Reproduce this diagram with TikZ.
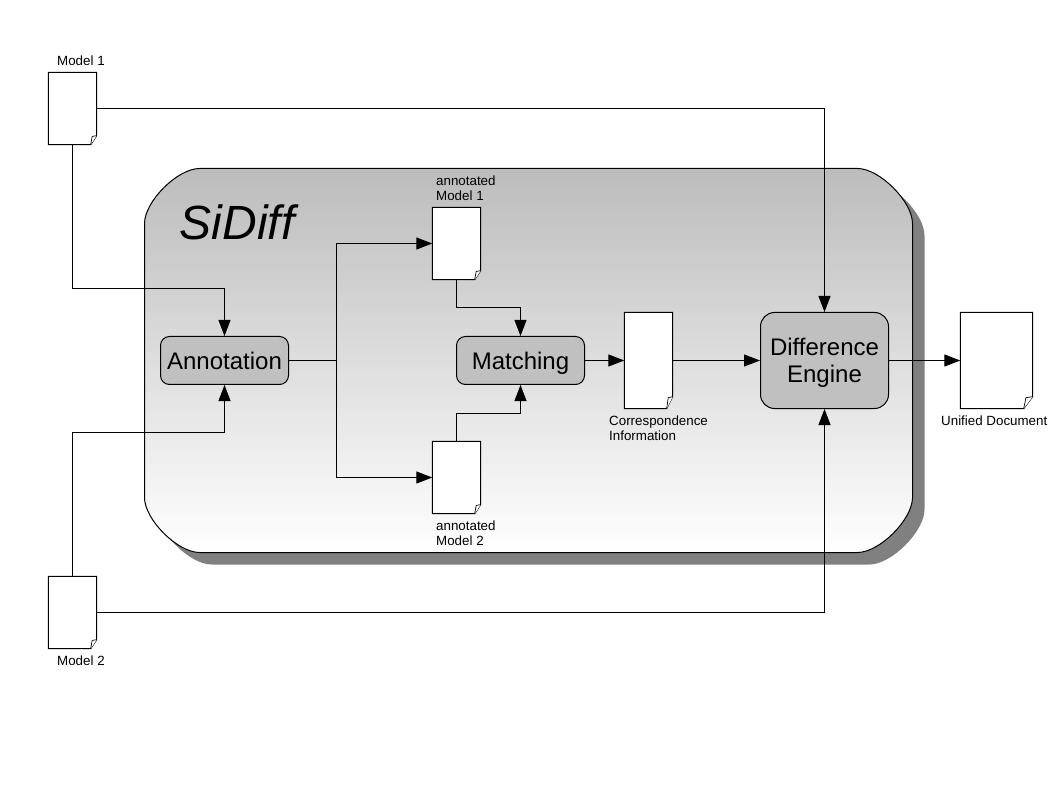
\documentclass[tikz,border=0pt]{standalone}
\usepackage{fontspec}
\setmainfont{Liberation Sans}
\usetikzlibrary{arrows.meta}
\definecolor{boxgray}{RGB}{192,192,192}
\definecolor{shadowgray}{RGB}{128,128,128}
\tikzset{
  conn/.style={draw=black,line width=1pt,-{Triangle[length=16pt,width=12pt]}},
  line/.style={draw=black,line width=1pt},
  procbox/.style={draw=black,line width=1pt,fill=boxgray,rounded corners=9pt,minimum width=128pt,minimum height=48pt,inner sep=0pt,align=center,font=\fontsize{24}{27.5}\selectfont},
  docnode/.style={inner sep=0pt,minimum width=48pt,minimum height=72pt},
  lbl/.style={inner sep=0pt,anchor=base west,align=left,font=\fontsize{13.35}{15}\selectfont,text=black},
}
% document outline with a turned corner: node name, fold width, fold height
\newcommand{\docfold}[3]{%
  \draw[line width=1pt,fill=white,line join=miter]
    (#1.north west) -- (#1.north east) -- ([yshift=#3pt]#1.south east)
    -- ([xshift=-#2pt]#1.south east) -- (#1.south west) -- cycle;
  \draw[line width=.7pt,fill=white]
    ([xshift=-#2pt]#1.south east) -- ([xshift=-0.75*#2pt,yshift=0.92*#3pt]#1.south east) -- ([yshift=#3pt]#1.south east);
}
% rounded outline of the big panel, offset by #1,#2
\newcommand{\panelpath}[2]{%
  (199+#1,168+#2) -- (857+#1,168+#2)
  .. controls (879+#1,168+#2) and (912+#1,201+#2) .. (912+#1,223+#2)
  -- (912+#1,497+#2)
  .. controls (912+#1,519+#2) and (879+#1,552+#2) .. (857+#1,552+#2)
  -- (199+#1,552+#2)
  .. controls (177+#1,552+#2) and (144+#1,519+#2) .. (144+#1,497+#2)
  -- (144+#1,223+#2)
  .. controls (144+#1,201+#2) and (177+#1,168+#2) .. (199+#1,168+#2) -- cycle}
\begin{document}
\begin{tikzpicture}[x=1pt,y=-1pt]
\useasboundingbox (0,0) rectangle (1058,794);
\begin{scope}[shift={(0.5,0.5)}]
% container
\fill[shadowgray] \panelpath{12}{12};
\draw[line width=1pt,top color=boxgray!98!black,bottom color=white] \panelpath{0}{0};
\node[inner sep=0pt,anchor=base west,font=\fontsize{48}{48}\selectfont\itshape] (title) at (179,239) {SiDiff};
% documents
\node[docnode] (m1) at (72,108) {};
\node[docnode] (m2) at (72,612) {};
\node[docnode] (a1) at (456,243) {};
\node[docnode] (a2) at (456,477) {};
\node[docnode,minimum height=96pt] (corr) at (648,360) {};
\node[docnode,minimum width=72pt,minimum height=96pt] (uni) at (996,360) {};
\docfold{m1}{6}{9}\docfold{m2}{6}{9}\docfold{a1}{6}{9}\docfold{a2}{6}{9}\docfold{corr}{6}{12}\docfold{uni}{9}{12}
% process boxes
\node[procbox,text height=18pt,text depth=0pt] (ann) at (224,360) {Annotation};
\node[procbox,text height=18pt,text depth=0pt] (mat) at (520,360) {Matching};
\node[procbox,minimum height=96pt,rounded corners=14pt] (diff) at (824,360) {\rule{0pt}{22pt}Difference\\Engine};
% bends
\coordinate (c1) at (224,288);
\coordinate (c2) at (224,432);
\coordinate (j) at (336,360);
\coordinate (c3) at (520,307);
\coordinate (c4) at (520,413);
% connectors
\draw[conn] (m1.east) -| (diff.north);
\draw[conn] (m2.east) -| (diff.south);
\draw[line] (m1.south) |- (c1);
\draw[conn] (c1) -- (ann.north);
\draw[line] (m2.north) |- (c2);
\draw[conn] (c2) -- (ann.south);
\draw[line] (ann.east) -- (j);
\draw[conn] (j) |- (a1.west);
\draw[conn] (j) |- (a2.west);
\draw[line] (a1.south) |- (c3);
\draw[conn] (c3) -- (mat.north);
\draw[line] (a2.north) |- (c4);
\draw[conn] (c4) -- (mat.south);
\draw[conn] (mat.east) -- (corr.west);
\draw[conn] (corr.east) -- (diff.west);
\draw[conn] (diff.east) -- (uni.west);
% labels
\node[lbl] (lm1) at (56.5,65) {Model 1};
\node[lbl] (lm2) at (56.5,665) {Model 2};
\node[lbl] (la1) at (435.5,185) {annotated};
\node[lbl] (la1b) at (435.5,200) {Model 1};
\node[lbl] (la2) at (435.5,530) {annotated};
\node[lbl] (la2b) at (435.5,545) {Model 2};
\node[lbl] (lc) at (608.5,425) {Correspondence};
\node[lbl] (lcb) at (608.5,440) {Information};
\node[lbl] (lu) at (940.5,425) {Unified Document};
\end{scope}
\end{tikzpicture}
\end{document}
